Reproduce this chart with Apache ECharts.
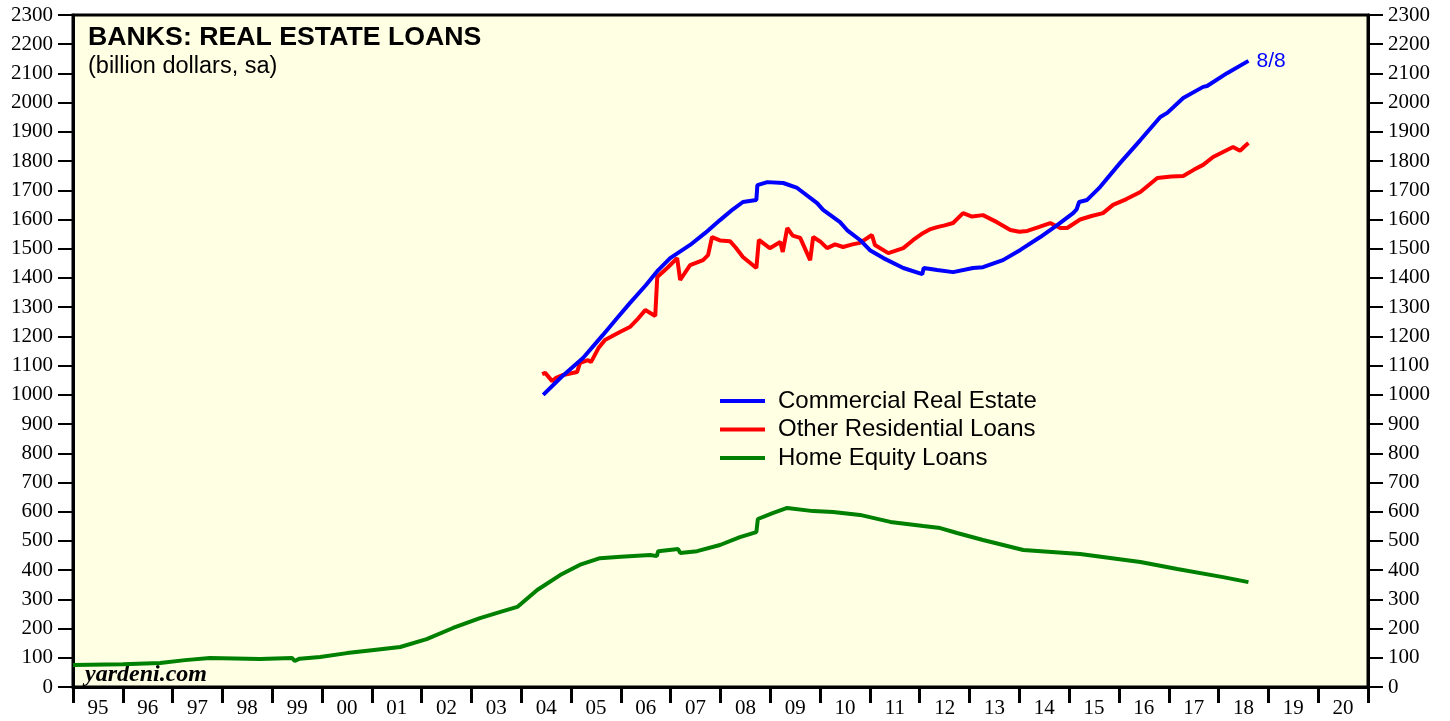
<!DOCTYPE html>
<html>
<head>
<meta charset="utf-8">
<title>Banks: Real Estate Loans</title>
<script src="https://cdn.jsdelivr.net/npm/echarts@6/dist/echarts.min.js"></script>
<style>
	html, body { margin: 0; padding: 0; background: #fff; }
	#pic_line { width: 1450px; height: 721px; }
</style>
</head>
<body>
<div id="pic_line"></div>
<script>
// year labels under the x axis
var yearLabels = ['95', '96', '97', '98', '99', '00', '01', '02', '03', '04', '05', '06', '07',
	'08', '09', '10', '11', '12', '13', '14', '15', '16', '17', '18', '19', '20'];

// commercial real estate, [year, billion $]
var creData = [
	[2004.44, 1000], [2004.8, 1060], [2005.24, 1126], [2005.64, 1205], [2005.9, 1258],
	[2006.18, 1314], [2006.5, 1375], [2006.75, 1427], [2006.99, 1468], [2007.39, 1513],
	[2007.7, 1555], [2007.99, 1598], [2008.25, 1635], [2008.45, 1660], [2008.72, 1667],
	[2008.74, 1718], [2008.94, 1728], [2009.26, 1725], [2009.54, 1708], [2009.94, 1656],
	[2010.06, 1633], [2010.4, 1591], [2010.54, 1564], [2010.8, 1530], [2011.0, 1495],
	[2011.27, 1468], [2011.67, 1434], [2012.05, 1413], [2012.08, 1434], [2012.35, 1427],
	[2012.67, 1420], [2013.07, 1434], [2013.27, 1437], [2013.67, 1461], [2014.02, 1496],
	[2014.42, 1540], [2014.76, 1581], [2015.08, 1622], [2015.15, 1635], [2015.2, 1660],
	[2015.36, 1667], [2015.62, 1711], [2016.02, 1793], [2016.43, 1872], [2016.83, 1951],
	[2016.97, 1965], [2017.29, 2016], [2017.69, 2054], [2017.77, 2057], [2018.17, 2101],
	[2018.6, 2143]
];

// other residential loans
var resData = [
	[2004.42, 1071], [2004.48, 1075], [2004.62, 1047], [2004.7, 1058], [2004.84, 1068],
	[2005.12, 1078], [2005.18, 1109], [2005.34, 1119], [2005.4, 1112], [2005.55, 1160],
	[2005.68, 1188], [2005.98, 1215], [2006.18, 1232], [2006.35, 1262], [2006.49, 1290],
	[2006.69, 1270], [2006.73, 1403], [2006.93, 1434], [2007.13, 1468], [2007.19, 1393],
	[2007.39, 1444], [2007.65, 1461], [2007.75, 1478], [2007.83, 1540], [2008.0, 1528],
	[2008.19, 1526], [2008.3, 1505], [2008.45, 1472], [2008.72, 1434], [2008.77, 1530],
	[2008.99, 1502], [2009.2, 1523], [2009.25, 1489], [2009.34, 1571], [2009.45, 1545],
	[2009.6, 1537], [2009.8, 1461], [2009.86, 1540], [2010.0, 1525], [2010.14, 1502],
	[2010.3, 1515], [2010.46, 1506], [2010.65, 1515], [2010.8, 1520], [2011.04, 1547],
	[2011.1, 1513], [2011.37, 1485], [2011.67, 1502], [2011.87, 1530], [2012.07, 1554],
	[2012.2, 1566], [2012.35, 1574], [2012.5, 1580], [2012.67, 1588], [2012.87, 1622],
	[2013.05, 1610], [2013.27, 1615], [2013.55, 1591], [2013.82, 1564], [2014.0, 1558],
	[2014.16, 1561], [2014.4, 1575], [2014.62, 1588], [2014.82, 1571], [2014.96, 1571],
	[2015.22, 1600], [2015.45, 1612], [2015.68, 1622], [2015.88, 1650], [2016.15, 1670],
	[2016.43, 1694], [2016.77, 1742], [2017.05, 1747], [2017.29, 1749], [2017.5, 1770],
	[2017.69, 1787], [2017.89, 1814], [2018.1, 1832], [2018.29, 1848], [2018.43, 1835],
	[2018.52, 1850], [2018.6, 1862]
];

// home equity loans
var heData = [
	[1995.0, 75], [1996.0, 78], [1996.75, 82], [1997.25, 92], [1997.75, 99], [1998.75, 96],
	[1999.4, 99], [1999.45, 89], [1999.55, 97], [1999.96, 103], [2000.5, 116], [2001.0, 126],
	[2001.57, 137], [2002.1, 164], [2002.63, 202], [2003.17, 236], [2003.6, 258],
	[2003.92, 274], [2004.32, 332], [2004.78, 383], [2005.2, 420], [2005.58, 441],
	[2006.0, 446], [2006.59, 452], [2006.72, 448], [2006.75, 465], [2007.15, 472],
	[2007.19, 459], [2007.53, 465], [2007.99, 486], [2008.39, 513], [2008.72, 530],
	[2008.75, 575], [2009.06, 596], [2009.34, 613], [2009.86, 602], [2010.26, 599],
	[2010.8, 589], [2011.41, 565], [2012.07, 551], [2012.41, 544], [2012.75, 527],
	[2013.27, 503], [2014.08, 469], [2015.22, 455], [2016.43, 428], [2017.17, 404],
	[2018.09, 376], [2018.6, 359]
];

var serif = '"Liberation Serif", "DejaVu Serif", serif';
var sans = '"Liberation Sans", Arial, sans-serif';

var pic_line = echarts.init(document.getElementById('pic_line'));

// y axis used on both sides
function valueAxis(side) {
	return {
		type: 'value',
		min: 0,
		max: 2300,
		interval: 100,
		position: side,
		axisLine: { show: true, lineStyle: { color: '#000', width: 3 } },
		axisTick: { show: true, length: 15, lineStyle: { color: '#000', width: 2 } },
		axisLabel: {
			margin: 20,
			fontFamily: serif,
			fontSize: 21,
			color: '#000',
			formatter: function(v) { return String(v); }
		},
		splitLine: { show: false }
	};
}

var option = {
	animation: false,
	backgroundColor: '#ffffff',
	grid: {
		left: 73,
		right: 82,
		top: 15,
		bottom: 34,
		show: true,
		backgroundColor: '#FFFFE4',
		borderColor: '#000',
		borderWidth: 3
	},
	title: [{
		text: 'BANKS: REAL ESTATE LOANS',
		left: 88,
		top: 24,
		padding: 0,
		textStyle: {
			fontFamily: sans,
			fontWeight: 'bold',
			fontSize: 26.7,
			color: '#000'
		}
	}, {
		text: '(billion dollars, sa)',
		left: 88,
		top: 55,
		padding: 0,
		textStyle: {
			fontFamily: sans,
			fontWeight: 'normal',
			fontSize: 23.5,
			color: '#000'
		}
	}],
	legend: {
		orient: 'vertical',
		left: 720,
		top: 389,
		padding: 0,
		icon: 'rect',
		itemWidth: 45,
		itemHeight: 4,
		itemGap: 4.5,
		data: ['Commercial Real Estate', 'Other Residential Loans', 'Home Equity Loans'],
		textStyle: {
			fontFamily: sans,
			fontSize: 24,
			color: '#000',
			padding: [0, 0, 0, 8]
		}
	},
	graphic: [{
		type: 'text',
		left: 85,
		top: 663,
		style: {
			text: 'yardeni.com',
			font: 'italic bold 24px ' + serif,
			fill: '#000'
		}
	}],
	xAxis: [{
		type: 'value',
		min: 1995,
		max: 2021,
		interval: 1,
		position: 'bottom',
		axisLine: { show: true, lineStyle: { color: '#000', width: 3 } },
		axisTick: { show: true, length: 16, lineStyle: { color: '#000', width: 3 } },
		axisLabel: { show: false },
		splitLine: { show: false }
	}, {
		type: 'category',
		position: 'bottom',
		boundaryGap: true,
		data: yearLabels,
		axisLine: { show: false },
		axisTick: { show: false },
		axisLabel: {
			margin: 11,
			fontFamily: serif,
			fontSize: 21,
			color: '#000'
		}
	}],
	yAxis: [valueAxis('left'), valueAxis('right')],
	series: [{
		name: 'Commercial Real Estate',
		type: 'line',
		data: creData,
		symbol: 'none',
		color: '#0000FF',
		lineStyle: { width: 4, color: '#0000FF' },
		endLabel: {
			show: true,
			formatter: '8/8',
			distance: 8,
			color: '#0000FF',
			fontFamily: sans,
			fontSize: 21
		},
		z: 4
	}, {
		name: 'Other Residential Loans',
		type: 'line',
		data: resData,
		symbol: 'none',
		color: '#FF0000',
		lineStyle: { width: 4, color: '#FF0000' },
		z: 3
	}, {
		name: 'Home Equity Loans',
		type: 'line',
		data: heData,
		symbol: 'none',
		color: '#008000',
		lineStyle: { width: 4, color: '#008000' },
		z: 3
	}]
};

pic_line.setOption(option);
</script>
</body>
</html>
